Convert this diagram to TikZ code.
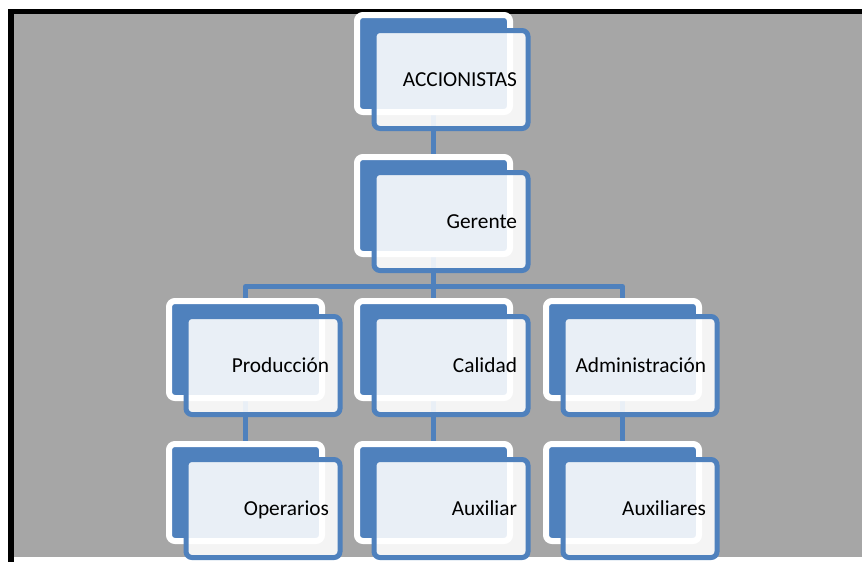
\documentclass[tikz,border=0pt]{standalone}
\usepackage{fontspec}
\setmainfont{Carlito}

\definecolor{orgblue}{HTML}{4F81BD}
\definecolor{sheetgray}{HTML}{A6A6A6}

\pgfdeclarelayer{bg}
\pgfsetlayers{bg,main}

\begin{document}
\begin{tikzpicture}[x=1pt,y=-1pt,
  backbox/.style={draw=white, line width=6pt, fill=orgblue, rounded corners=6pt,
    minimum width=153pt, minimum height=97pt, inner sep=0pt},
  frontbox/.style={draw=orgblue, line width=5pt, fill=white, fill opacity=0.88,
    text opacity=1, rounded corners=6pt, text width=132pt, align=right,
    inner xsep=11pt, inner ysep=0pt, minimum height=98pt,
    font=\fontsize{21.33}{25}\selectfont, text height=13.7pt, text depth=0pt},
  conn/.style={draw=orgblue, line width=5pt, line join=round}]

  \useasboundingbox (0,0) rectangle (862,562);

  % back cards (blue with white rim)
  \node[backbox] (accB)  at (433.5,63.5)  {};
  \node[backbox] (gerB)  at (433.5,205.5) {};
  \node[backbox] (prodB) at (245.5,349.5) {};
  \node[backbox] (calB)  at (433.5,349.5) {};
  \node[backbox] (admB)  at (622.5,349.5) {};
  \node[backbox] (opeB)  at (245.5,492.5) {};
  \node[backbox] (auxB)  at (433.5,492.5) {};
  \node[backbox] (auxsB) at (622.5,492.5) {};

  % front cards with the labels
  \node[frontbox] (acc)  at (451,79.5)  {ACCIONISTAS};
  \node[frontbox] (ger)  at (451,221.5) {Gerente};
  \node[frontbox] (prod) at (263,365.5) {Producción};
  \node[frontbox] (cal)  at (451,365.5) {Calidad};
  \node[frontbox] (adm)  at (640,365.5) {Administración};
  \node[frontbox] (ope)  at (263,508.5) {Operarios};
  \node[frontbox] (aux)  at (451,508.5) {Auxiliar};
  \node[frontbox] (auxs) at (640,508.5) {Auxiliares};

  \coordinate (bus) at (433.5,286.5);

  \begin{pgfonlayer}{bg}
    % sheet and frame
    \fill[white] (0,0) rectangle (862,562);
    \fill[black] (8,9) rectangle (862,14);
    \fill[black] (8,9) rectangle (14,562);
    \fill[sheetgray] (14,14) rectangle (862,557);

    % connectors
    \draw[conn] (accB) -- (gerB);
    \draw[conn] (gerB) -- (gerB |- bus);
    \draw[conn] (prodB) |- (bus) -| (admB);
    \draw[conn] (calB) -- (calB |- bus);
    \draw[conn] (prodB) -- (opeB);
    \draw[conn] (calB) -- (auxB);
    \draw[conn] (admB) -- (auxsB);
  \end{pgfonlayer}
\end{tikzpicture}
\end{document}
